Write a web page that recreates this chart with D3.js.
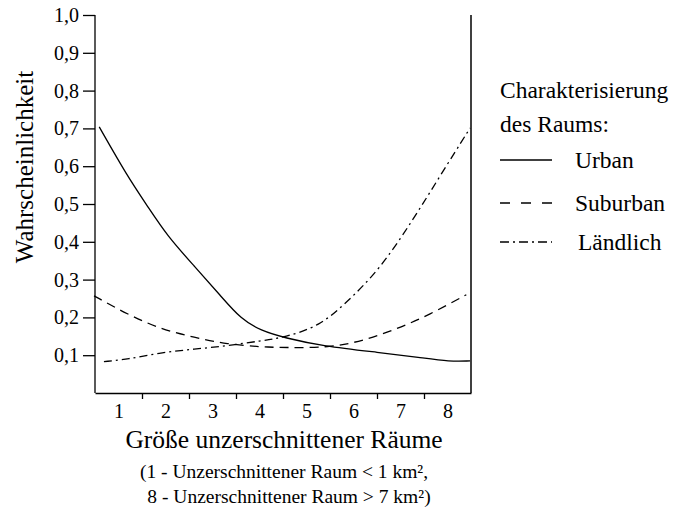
<!DOCTYPE html>
<html>
<head>
<meta charset="utf-8">
<script src="https://d3js.org/d3.v7.min.js"></script>
<style>
  body { margin: 0; background: #fff; }
  .domain, .tick line { stroke: #000; stroke-width: 1.3px; }
</style>
</head>
<body>
<svg id="chart" width="682" height="508"></svg>
<script>
// x positions (1..8 = size class), y = probability
var xLabels = ["1", "2", "3", "4", "5", "6", "7", "8"];
var yTicks = [0.1, 0.2, 0.3, 0.4, 0.5, 0.6, 0.7, 0.8, 0.9, 1.0];

var urban = [[0.59, 0.704], [1.19, 0.573], [1.62, 0.494], [2.04, 0.415], [2.61, 0.336],
  [3.18, 0.256], [3.61, 0.195], [4.03, 0.165], [4.53, 0.146], [5.35, 0.124],
  [6.56, 0.107], [7.41, 0.094], [8.05, 0.083], [8.48, 0.085]];
var suburban = [[0.48, 0.257], [1.19, 0.208], [1.90, 0.169], [2.61, 0.147], [3.32, 0.129],
  [4.03, 0.122], [4.53, 0.120], [5.49, 0.120], [6.20, 0.138], [6.92, 0.169],
  [7.63, 0.208], [8.40, 0.260]];
var laendlich = [[0.69, 0.083], [1.19, 0.089], [1.90, 0.107], [2.61, 0.116], [3.32, 0.125],
  [4.03, 0.138], [4.53, 0.147], [5.28, 0.177], [5.85, 0.239], [6.56, 0.327],
  [7.27, 0.459], [7.84, 0.574], [8.48, 0.701]];

var series = [
  { name: "Urban", data: urban, dash: null, legendDash: null },
  { name: "Suburban", data: suburban, dash: "9,6", legendDash: "10,11" },
  { name: "Ländlich", data: laendlich, dash: "8,4,2,4", legendDash: "9,4,2,4" }
];

var FONT = "Liberation Serif";
var svg = d3.select("#chart");

var x = d3.scaleLinear().domain([0.5, 8.5]).range([95, 471]);
var y = d3.scaleLinear().domain([0, 1]).range([393, 15]);

// y axis
svg.append("g")
  .attr("transform", "translate(95,0)")
  .call(d3.axisLeft(y).tickValues(yTicks).tickSize(12).tickSizeOuter(0).tickPadding(4)
    .tickFormat(function(d) { return d3.format(".1f")(d).replace(".", ","); }))
  .call(function(g) {
    g.attr("font-family", FONT);
    g.select(".domain").attr("d", "M0," + y(1) + "V" + y(0));
    g.selectAll("text").attr("font-size", 20);
  });

// right border
svg.append("line")
  .attr("x1", x(8.5)).attr("x2", x(8.5))
  .attr("y1", y(1)).attr("y2", y(0))
  .attr("stroke", "#000").attr("stroke-width", 1.5);

// bottom axis, small ticks between the classes
svg.append("g")
  .attr("transform", "translate(0," + y(0) + ")")
  .call(d3.axisBottom(x).tickValues([1.5, 2.5, 3.5, 4.5, 5.5, 6.5, 7.5]).tickSize(6).tickSizeOuter(0)
    .tickFormat(""));

// class labels
svg.append("g")
  .attr("transform", "translate(0," + y(0) + ")")
  .call(d3.axisBottom(x).tickValues(d3.range(1, 9)).tickSize(0).tickPadding(11)
    .tickFormat(function(d, i) { return xLabels[i]; }))
  .call(function(g) {
    g.attr("font-family", FONT);
    g.select(".domain").remove();
    g.selectAll("text").attr("font-size", 20);
  });

// curves
var line = d3.line()
  .x(function(d) { return x(d[0]); })
  .y(function(d) { return y(d[1]); })
  .curve(d3.curveBasis);

series.forEach(function(s) {
  svg.append("path")
    .datum(s.data)
    .attr("d", line)
    .attr("fill", "none")
    .attr("stroke", "#000")
    .attr("stroke-width", 1.3)
    .attr("stroke-dasharray", s.dash);
});

function label(xp, yp, size, txt) {
  return svg.append("text")
    .attr("x", xp).attr("y", yp)
    .attr("font-family", FONT)
    .attr("font-size", size)
    .text(txt);
}

// titles
label(0, 0, 25, "Wahrscheinlichkeit")
  .attr("transform", "translate(33,167) rotate(-90)")
  .attr("text-anchor", "middle");

label(284, 448, 25.5, "Größe unzerschnittener Räume").attr("text-anchor", "middle");
label(284, 478, 19.5, "(1 - Unzerschnittener Raum < 1 km²,").attr("text-anchor", "middle");
label(289, 503, 19.5, "8 - Unzerschnittener Raum > 7 km²)").attr("text-anchor", "middle");

// legend
label(500, 98, 23.5, "Charakterisierung");
label(500, 132, 23.5, "des Raums:");

var legendY = [160, 203, 242];
var legendTextX = [575, 575, 578];
series.forEach(function(s, i) {
  svg.append("line")
    .attr("x1", 500).attr("x2", 552)
    .attr("y1", legendY[i]).attr("y2", legendY[i])
    .attr("stroke", "#000").attr("stroke-width", 1.3)
    .attr("stroke-dasharray", s.legendDash);
  label(legendTextX[i], legendY[i] + 8, 23.5, s.name);
});
</script>
</body>
</html>
